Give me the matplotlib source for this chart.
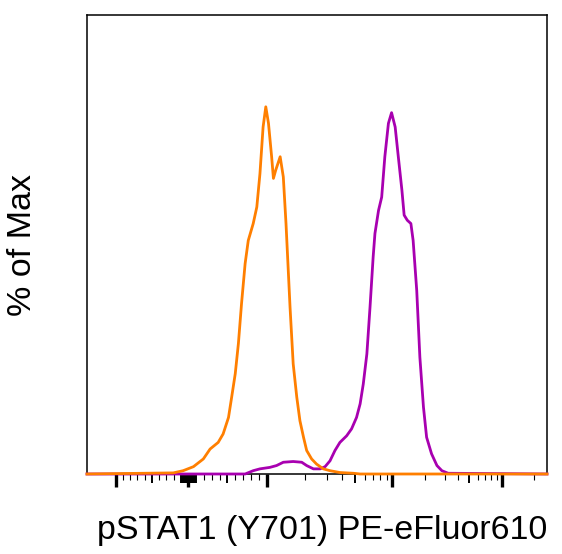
import numpy as np
import matplotlib
matplotlib.use('Agg')
import matplotlib.pyplot as plt

plt.rcParams['font.family'] = ['Liberation Sans', 'DejaVu Sans']

# histogram traces, x in display channels (0-1024), y in % of max
orange_ch = [0, 192, 214, 237, 259, 274, 292, 303, 315, 322,
             330, 337, 344, 352, 359, 370, 378, 385, 392, 398,
             404, 411, 415, 420, 430, 437, 443, 452, 459, 467,
             474, 482, 489, 500, 511, 526, 541, 563, 593, 608, 1024]
orange_pct = [0, 0.3, 0.9, 2.0, 4.1, 6.8, 8.6, 10.9, 15.4, 20.9,
              27.3, 35.5, 46.4, 57.3, 63.6, 68.2, 72.7, 81.8, 94.5, 100,
              95.5, 86.4, 80.5, 82.7, 86.4, 80.9, 68.2, 45.4, 30.0, 20.9,
              14.5, 10.0, 6.4, 4.1, 2.7, 1.4, 0.9, 0.4, 0.2, 0, 0]

purple_ch = [0, 352, 370, 385, 407, 422, 437, 459, 478, 489,
             504, 519, 530, 541, 552, 563, 578, 589, 600, 608,
             615, 623, 630, 637, 641, 649, 656, 663, 671, 678,
             686, 693, 701, 706, 713, 721, 726, 734, 741, 749,
             756, 767, 779, 790, 804, 1024]
purple_pct = [0, 0, 0.9, 1.4, 1.8, 2.3, 3.2, 3.4, 3.2, 2.3,
              1.4, 1.4, 2.0, 3.6, 6.4, 8.6, 10.4, 12.3, 15.4, 19.1,
              24.5, 32.7, 45.4, 59.1, 65.5, 71.8, 75.4, 86.4, 95.5, 98.4,
              94.5, 86.4, 77.3, 70.5, 69.1, 68.2, 63.6, 50.0, 31.8, 18.2,
              10.0, 5.5, 2.3, 0.9, 0.2, 0]

# biex display scale: value -> channel (linear around 0, log above 10^3)
scale_vals = [-1000, 0, 1000, 1e4, 1e5, 262144]
scale_ch = [64, 225, 400, 680, 924, 1024]


def symlog(v):
    v = np.asarray(v, dtype=float)
    a = np.abs(v)
    return np.where(a <= 1000, v / 1000, np.sign(v) * (1 + np.log10(np.maximum(a, 1) / 1000)))


def to_channel(v):
    return np.interp(symlog(v), symlog(scale_vals), scale_ch)


major_vals = [-1000, 0, 1000, 1e4, 1e5]
medium_vals = ([-500, 500, 5000, 5e4] +
               [-10 * k for k in range(1, 11)] + [10 * k for k in range(1, 11)])
minor_vals = ([-100 * k for k in (2, 3, 4, 6, 7, 8, 9)] +
              [100 * k for k in (2, 3, 4, 6, 7, 8, 9)] +
              [1000 * k for k in (2, 3, 4, 6, 7, 8, 9)] +
              [1e4 * k for k in (2, 3, 4, 6, 7, 8, 9)] + [2e5])

fig = plt.figure(figsize=(5.62, 5.54), dpi=100)
ax = fig.add_axes([87 / 562, 80 / 554, 460 / 562, 459 / 554])

ax.plot(purple_ch, purple_pct, color='#A800B0', lw=2.0, clip_on=False, zorder=3)
ax.plot(orange_ch, orange_pct, color='#FF7F00', lw=2.0, clip_on=False, zorder=4)

ax.set_xlim(0, 1024)
ax.set_ylim(0, 125)
ax.set_yticks([])

ax.set_xticks(to_channel(major_vals))
ax.set_xticks(to_channel(minor_vals), minor=True)
ax.set_xticklabels([])
ax.tick_params(axis='x', which='major', length=9, width=2.4, direction='out', color='black')
ax.tick_params(axis='x', which='minor', length=4.6, width=0.8, direction='out', color='black')

sec = ax.secondary_xaxis('bottom')
sec.set_xticks(to_channel(medium_vals))
sec.set_xticklabels([])
sec.tick_params(length=6.8, width=1.4, direction='out', color='black')
sec.spines['bottom'].set_visible(False)

for s in ax.spines.values():
    s.set_linewidth(1.1)

ax.set_xlabel('pSTAT1 (Y701) PE-eFluor610', fontsize=24.5, labelpad=17)
ax.xaxis.label.set_x(0.511)
ax.set_ylabel('% of Max', fontsize=24.5, labelpad=35)

fig.savefig('out.png', dpi=100)
